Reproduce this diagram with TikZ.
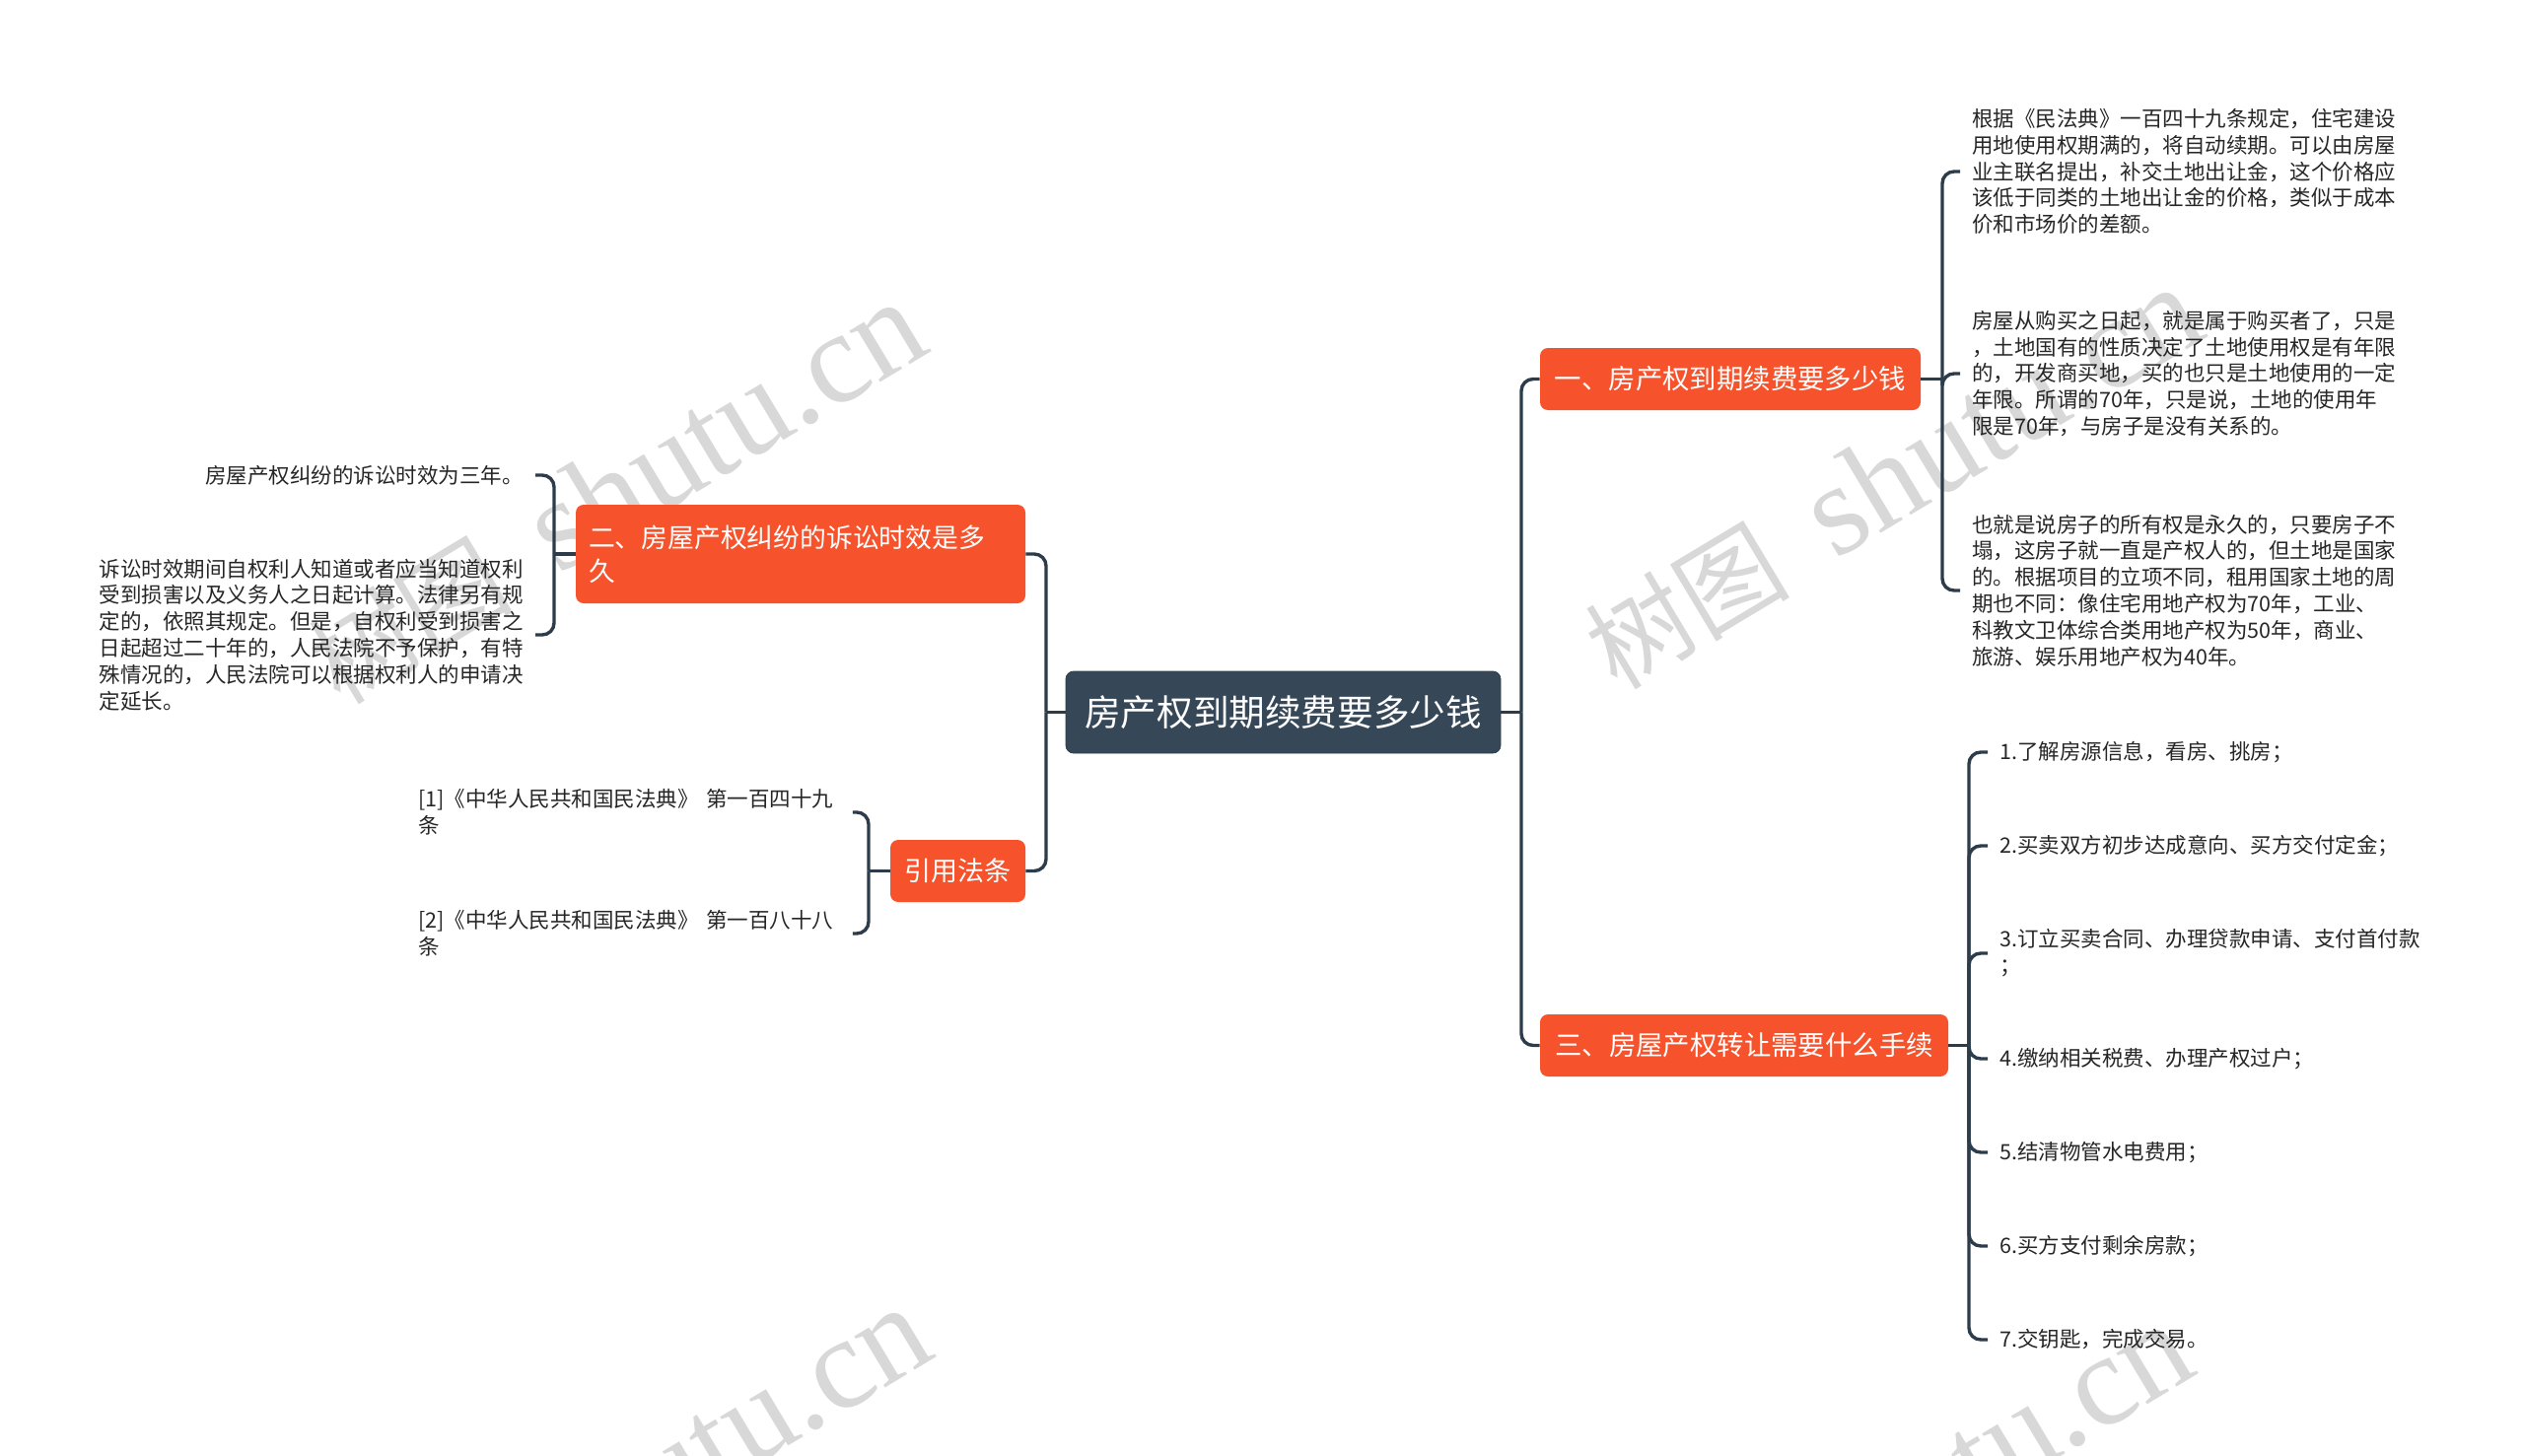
\documentclass[tikz,border=0pt]{standalone}
\usepackage{fontspec}
\setmainfont{Noto Sans CJK SC}
\newfontfamily\wmlat{Liberation Serif}
\definecolor{orangebox}{RGB}{246,82,43}
\definecolor{rootbox}{RGB}{54,72,88}
\definecolor{linec}{RGB}{44,60,74}
\definecolor{leaftext}{RGB}{38,38,38}
\definecolor{wm}{RGB}{216,216,216}
\begin{document}
\begin{tikzpicture}[x=0.5pt,y=-0.5pt,
  conn/.style={draw=linec, line width=1.7pt, rounded corners=6pt},
  rootnode/.style={fill=rootbox, draw=rootbox!85!black, line width=0.4pt, rounded corners=4pt, text=white,
    font=\fontsize{18.3pt}{22pt}\selectfont, minimum width=220.5pt, minimum height=41.5pt, inner sep=0pt},
  branch/.style={fill=orangebox, rounded corners=4pt, text=white,
    font=\fontsize{13.7pt}{17pt}\selectfont, minimum height=31.5pt, inner sep=0pt},
  leaf/.style={text=leaftext, font=\fontsize{10.75pt}{13.4pt}\selectfont, inner xsep=6pt, inner ysep=0pt, align=left},
  wmark/.style={text=wm, rotate=31, anchor=base west, inner sep=0pt}
]
\useasboundingbox (0,0) rectangle (2560,1477);

% watermarks
\begin{scope}
\clip (0,0) rectangle (2560,1477);
\foreach \wx/\wy [count=\i] in {345/717, 1640/702, 350/1737, 1630/1754}{
  \node[wmark] (wm\i) at (\wx,\wy) {\fontsize{52pt}{52pt}\selectfont 树图\,{\wmlat\fontsize{66pt}{66pt}\selectfont\ shutu.cn}};
}
\end{scope}

% main nodes
\node[rootnode] (root) at (1301.5,722.5) {房产权到期续费要多少钱};
\node[branch, minimum width=193pt] (b1) at (1755,384.5) {一、房产权到期续费要多少钱};
\node[branch, minimum width=207pt] (b3) at (1769,1060.5) {三、房屋产权转让需要什么手续};
\node[branch, minimum width=228pt, minimum height=50pt, text width=215pt, align=left, inner xsep=6.5pt,
  font=\fontsize{13.4pt}{17pt}\selectfont] (b2) at (812,562) {二、房屋产权纠纷的诉讼时效是多\\久};
\node[branch, minimum width=68.5pt, font=\fontsize{13.5pt}{17pt}\selectfont] (b4) at (971.5,883.5) {引用法条};

% branch 1 leaves
\node[leaf, anchor=west] (t11) at (1988,174) {根据《民法典》一百四十九条规定，住宅建设\\用地使用权期满的，将自动续期。可以由房屋\\业主联名提出，补交土地出让金，这个价格应\\该低于同类的土地出让金的价格，类似于成本\\价和市场价的差额。};
\node[leaf, anchor=west] (t12) at (1988,379) {房屋从购买之日起，就是属于购买者了，只是\\，土地国有的性质决定了土地使用权是有年限\\的，开发商买地，买的也只是土地使用的一定\\年限。所谓的70年，只是说，土地的使用年\\限是70年，与房子是没有关系的。};
\node[leaf, anchor=west] (t13) at (1988,599) {也就是说房子的所有权是永久的，只要房子不\\塌，这房子就一直是产权人的，但土地是国家\\的。根据项目的立项不同，租用国家土地的周\\期也不同：像住宅用地产权为70年，工业、\\科教文卫体综合类用地产权为50年，商业、\\旅游、娱乐用地产权为40年。};

% branch 3 leaves
\node[leaf, anchor=west] (s1) at (2016,763) {1.了解房源信息，看房、挑房；};
\node[leaf, anchor=west] (s2) at (2016,858) {2.买卖双方初步达成意向、买方交付定金；};
\node[leaf, anchor=west] (s3) at (2016,967) {3.订立买卖合同、办理贷款申请、支付首付款\\；};
\node[leaf, anchor=west] (s4) at (2016,1074) {4.缴纳相关税费、办理产权过户；};
\node[leaf, anchor=west] (s5) at (2016,1169) {5.结清物管水电费用；};
\node[leaf, anchor=west] (s6) at (2016,1264) {6.买方支付剩余房款；};
\node[leaf, anchor=west] (s7) at (2016,1359) {7.交钥匙，完成交易。};

% branch 2 leaves
\node[leaf, anchor=east] (l1) at (543,482) {房屋产权纠纷的诉讼时效为三年。};
\node[leaf, anchor=east] (l2) at (543,644) {诉讼时效期间自权利人知道或者应当知道权利\\受到损害以及义务人之日起计算。法律另有规\\定的，依照其规定。但是，自权利受到损害之\\日起超过二十年的，人民法院不予保护，有特\\殊情况的，人民法院可以根据权利人的申请决\\定延长。};

% citation leaves
\node[leaf, anchor=west, text width=214pt] (c1) at (412,824) {[1]《中华人民共和国民法典》 第一百四十九\\条};
\node[leaf, anchor=west, text width=214pt] (c2) at (412,947) {[2]《中华人民共和国民法典》 第一百八十八\\条};

% junctions
\coordinate (jR) at (1543,722.5);
\coordinate (jL) at (1061,722.5);
\coordinate (j1) at (1970,384.5);
\coordinate (j3) at (1997,1060.5);
\coordinate (j2) at (562,562);
\coordinate (j4) at (881,883.5);

% connectors
\draw[conn] (root.east) -- (jR);
\draw[conn] (jR) |- (b1.west);
\draw[conn] (jR) |- (b3.west);
\draw[conn] (root.west) -- (jL);
\draw[conn] (jL) |- (b2.east);
\draw[conn] (jL) |- (b4.east);

\draw[conn] (b1.east) -- (j1);
\draw[conn] (j1) |- (t11.west);
\draw[conn] (j1) |- (t12.west);
\draw[conn] (j1) |- (t13.west);

\draw[conn] (b3.east) -- (j3);
\foreach \s in {s1,s2,s3,s4,s5,s6,s7}{
  \draw[conn] (j3) |- (\s.west);
}

\draw[conn] (b2.west) -- (j2);
\draw[conn] (j2) |- (l1.east);
\draw[conn] (j2) |- (l2.east);

\draw[conn] (b4.west) -- (j4);
\draw[conn] (j4) |- (c1.east);
\draw[conn] (j4) |- (c2.east);
\end{tikzpicture}
\end{document}
